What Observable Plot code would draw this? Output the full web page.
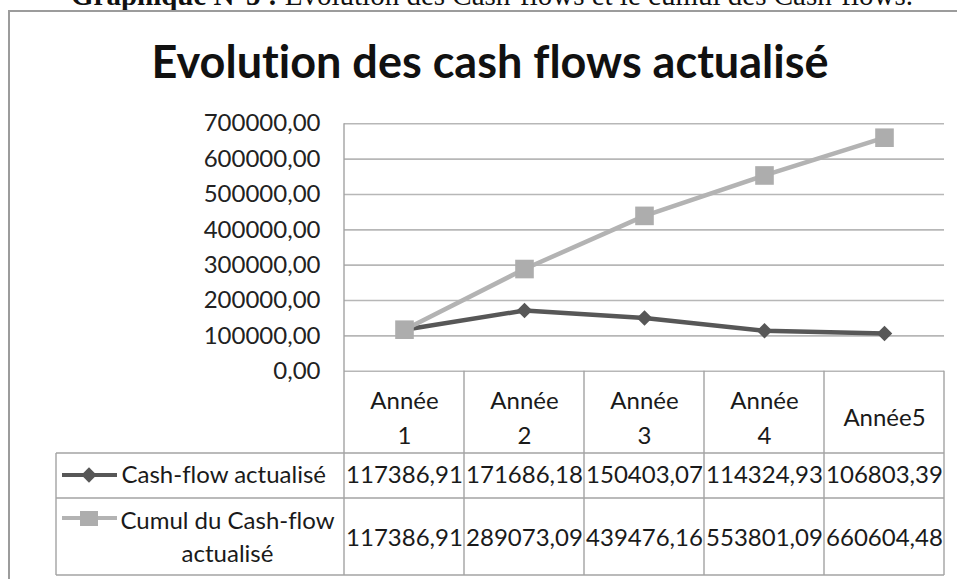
<!DOCTYPE html>
<html>
<head>
<meta charset="utf-8">
<script src="https://cdn.jsdelivr.net/npm/d3@7"></script>
<script src="https://cdn.jsdelivr.net/npm/@observablehq/plot@0.6"></script>
<style>
  html, body { margin: 0; padding: 0; background: #fff; }
  #wrap { position: relative; width: 957px; height: 579px; overflow: hidden; background: #fff; }
  #caption { position: absolute; left: 0; width: 984px; top: -25px; text-align: center;
             font-family: "Liberation Serif", "Times New Roman", serif; font-size: 29px; line-height: 40px; color: #111; white-space: nowrap; }
  #box { position: absolute; left: 8px; top: 10px; width: 1100px; height: 700px; border: 2.5px solid #9c9c9c; box-sizing: border-box; }
  #title { position: absolute; left: 0; width: 980px; top: 34px; text-align: center;
           font-family: "Lato", sans-serif; font-weight: bold; font-size: 45px; line-height: 54px; color: #111; white-space: nowrap;
           font-variant-ligatures: none; }
  #chart { position: absolute; left: 0; top: 0; }
  #chart text { font-variant-ligatures: none; }
</style>
</head>
<body>
<div id="wrap">
  <div id="caption"><b>Graphique N°5 :</b> Evolution des Cash-flows et le cumul des Cash-flows.</div>
  <div id="box"></div>
  <div id="title">Evolution des cash flows actualisé</div>
  <div id="chart"></div>
</div>
<script>
const years = ["Année\n1", "Année\n2", "Année\n3", "Année\n4", "Année5"];
const cashFlow = [117386.91, 171686.18, 150403.07, 114324.93, 106803.39];
const cumul = [117386.91, 289073.09, 439476.16, 553801.09, 660604.48];
const seriesNames = ["Cash-flow actualisé", "Cumul du Cash-flow\nactualisé"];
const yTicks = [0, 100000, 200000, 300000, 400000, 500000, 600000, 700000];

const fmt = v => v.toFixed(2).replace(".", ",");
const idx = (d, i) => i + 1;

const darkCol = "#575757";
const lightCol = "#b3b3b3";
const fs = 24;

const chart = Plot.plot({
  width: 957,
  height: 579,
  marginLeft: 344,
  marginRight: 13,
  marginTop: 123.3,
  marginBottom: 208.3,
  x: { domain: [0.5, 5.5], axis: null },
  y: { domain: [0, 700000], axis: null },
  style: { fontFamily: "Lato", fontSize: fs + "px", color: "#1a1a1a", background: "transparent", overflow: "visible" },
  marks: [
    Plot.ruleY(yTicks, { stroke: "#b7b7b7", strokeWidth: 1.6 }),
    Plot.axisY(yTicks, { tickSize: 0, tickPadding: 24, tickFormat: fmt, fontSize: fs, fill: "#222" }),
    Plot.line(cashFlow, { x: idx, y: d => d, stroke: darkCol, strokeWidth: 4.5 }),
    Plot.dot(cashFlow, { x: idx, y: d => d, symbol: "diamond2", r: 7, fill: darkCol, stroke: "none" }),
    Plot.line(cumul, { x: idx, y: d => d, stroke: lightCol, strokeWidth: 4.5 }),
    Plot.dot(cumul, { x: idx, y: d => d, symbol: "square", r: 10.5, fill: "#adadad", stroke: "none" }),
    Plot.text(years, { x: idx, text: d => d, frameAnchor: "bottom", lineAnchor: "middle", dy: 43.8, lineHeight: 1.46, fontSize: fs, fill: "#1a1a1a" }),
    Plot.text(cashFlow, { x: idx, text: fmt, frameAnchor: "bottom", lineAnchor: "middle", dy: 104.3, fontSize: fs, fill: "#1a1a1a" }),
    Plot.text(cumul, { x: idx, text: fmt, frameAnchor: "bottom", lineAnchor: "middle", dy: 167.3, fontSize: fs, fill: "#1a1a1a" }),
    Plot.text([seriesNames[0]], { text: d => d, frameAnchor: "bottom-left", lineAnchor: "middle", dx: -223, dy: 104.3, textAnchor: "start", fontSize: fs, fill: "#1a1a1a" }),
    Plot.text([seriesNames[1]], { text: d => d, frameAnchor: "bottom-left", lineAnchor: "middle", textAnchor: "middle", dx: -117, dy: 164, lineHeight: 1.34, fontSize: fs, fill: "#1a1a1a" })
  ]
});

document.getElementById("chart").appendChild(chart);

// data table grid and legend keys, positioned with the plot's scales
const xs = chart.scale("x");
const ys = chart.scale("y");
const svg = d3.select(chart);
const g = svg.append("g").attr("stroke", "#a3a3a3").attr("stroke-width", 1.4);
const xL = xs.apply(0.5), xR = xs.apply(5.5);
const y0 = ys.apply(0), yTop = ys.apply(700000);
const tableLeft = 56, rowA = 453, rowB = 498, rowC = 575;
g.append("line").attr("x1", xL).attr("x2", xL).attr("y1", yTop).attr("y2", rowC);
[1.5, 2.5, 3.5, 4.5, 5.5].forEach(v => {
  const x = xs.apply(v);
  g.append("line").attr("x1", x).attr("x2", x).attr("y1", y0).attr("y2", rowC);
});
g.append("line").attr("x1", tableLeft).attr("x2", tableLeft).attr("y1", rowA).attr("y2", rowC);
[rowA, rowB, rowC].forEach(y => {
  g.append("line").attr("x1", tableLeft).attr("x2", xR).attr("y1", y).attr("y2", y);
});

// legend keys
const k = svg.append("g");
k.append("line").attr("x1", 62).attr("x2", 117).attr("y1", 475).attr("y2", 475).attr("stroke", darkCol).attr("stroke-width", 4);
k.append("path").attr("d", d3.symbol(d3.symbolDiamond2, 150)()).attr("transform", "translate(89,475)").attr("fill", darkCol);
k.append("line").attr("x1", 62).attr("x2", 117).attr("y1", 518).attr("y2", 518).attr("stroke", lightCol).attr("stroke-width", 4);
k.append("rect").attr("x", 80).attr("y", 511).attr("width", 18).attr("height", 15).attr("fill", "#adadad");
</script>
</body>
</html>
